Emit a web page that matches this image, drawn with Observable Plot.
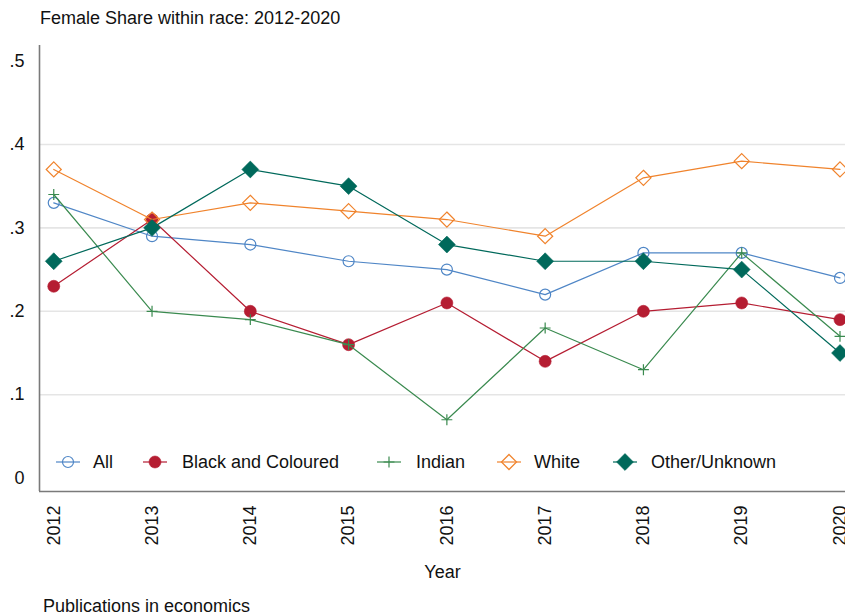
<!DOCTYPE html>
<html>
<head>
<meta charset="utf-8">
<script src="https://cdn.jsdelivr.net/npm/d3@7"></script>
<script src="https://cdn.jsdelivr.net/npm/@observablehq/plot@0.6"></script>
<style>
  body { margin: 0; background: #fff; font-family: "Liberation Sans", Arial, sans-serif; }
  #wrap { position: relative; width: 845px; height: 616px; overflow: hidden; background: #fff; }
  #wrap svg.plot { position: absolute; left: 0; top: 0; }
  .txt { position: absolute; font-size: 18px; color: #111; white-space: nowrap; line-height: 1; }
  .key { position: absolute; top: 452px; height: 20px; }
  .keylabel { position: absolute; top: 453px; font-size: 18px; color: #111; white-space: nowrap; line-height: 1; }
</style>
</head>
<body>
<div id="wrap">
  <div class="txt" id="title" style="left:40px; top:9px;">Female Share within race: 2012-2020</div>
  <div class="txt" id="caption" style="left:43px; top:597px;">Publications in economics</div>
</div>
<script>
// Publication years
const years = [2012, 2013, 2014, 2015, 2016, 2017, 2018, 2019, 2020];

// Female share of publications, by race group
const shareAll     = [0.33, 0.29, 0.28, 0.26, 0.25, 0.22, 0.27, 0.27, 0.24];
const shareBlack   = [0.23, 0.31, 0.20, 0.16, 0.21, 0.14, 0.20, 0.21, 0.19];
const shareIndian  = [0.34, 0.20, 0.19, 0.16, 0.07, 0.18, 0.13, 0.27, 0.17];
const shareWhite   = [0.37, 0.31, 0.33, 0.32, 0.31, 0.29, 0.36, 0.38, 0.37];
const shareOther   = [0.26, 0.30, 0.37, 0.35, 0.28, 0.26, 0.26, 0.25, 0.15];

const seriesNames  = ["All", "Black and Coloured", "Indian", "White", "Other/Unknown"];
const seriesValues = [shareAll, shareBlack, shareIndian, shareWhite, shareOther];
const yTicks = [0, 0.1, 0.2, 0.3, 0.4, 0.5];

// Marker style per series: colour, symbol, radius, hollow or filled
const styles = [
  {color: "#4f86c6", symbol: "circle",   r: 5.5, hollow: true},
  {color: "#b51d32", symbol: "circle",   r: 6,   hollow: false},
  {color: "#3a8a4f", symbol: "plus",     r: 3.6, hollow: true},
  {color: "#f0832c", symbol: "diamond2", r: 6.8, hollow: true},
  {color: "#00695b", symbol: "diamond2", r: 7.6, hollow: false}
];

const rows = seriesNames.flatMap((name, i) =>
  years.map((year, j) => ({series: name, year, share: seriesValues[i][j]}))
);

const xDomain = [2011.855, 2020.056];
const yDomain = [-0.016, 0.5186];
const axisColor = "#7a7a7a";

const seriesMarks = seriesNames.flatMap((name, i) => {
  const s = styles[i];
  const data = rows.filter(d => d.series === name);
  return [
    Plot.line(data, {x: "year", y: "share", stroke: s.color, strokeWidth: 1.2}),
    Plot.dot(data, {
      x: "year", y: "share", symbol: () => s.symbol, r: s.r,
      fill: s.hollow ? "none" : s.color,
      stroke: s.color, strokeWidth: s.hollow ? 1.2 : 0.6
    })
  ];
});

const yFmt = d => d === 0 ? "0" : d3.format(".1f")(d).replace(/^0/, "");

const chart = Plot.plot({
  width: 845,
  height: 616,
  marginLeft: 39,
  marginRight: 0,
  marginTop: 45,
  marginBottom: 125,
  style: {fontFamily: "'Liberation Sans', Arial, sans-serif", fontSize: "18px", color: "#111", background: "transparent"},
  x: {domain: xDomain},
  y: {domain: yDomain},
  symbol: {type: "identity"},
  marks: [
    Plot.gridY(yTicks.filter(t => t > 0 && t < 0.5), {stroke: "#e5e5e5", strokeOpacity: 1, strokeWidth: 1.6}),
    Plot.axisY(yTicks, {tickSize: 0, tickPadding: 15, tickFormat: yFmt, label: null, fill: "#111"}),
    Plot.axisX(years, {
      tickSize: 0, tickPadding: 14, tickRotate: -90, tickFormat: d => String(d),
      label: "Year", labelAnchor: "center", labelArrow: "none", labelOffset: 86, fill: "#111"
    }),
    ...seriesMarks,
    Plot.ruleX([xDomain[0]], {stroke: axisColor, strokeWidth: 1.6}),
    Plot.ruleY([yDomain[0]], {stroke: axisColor, strokeWidth: 1.6})
  ]
});
chart.classList.add("plot");
const wrap = document.getElementById("wrap");
wrap.insertBefore(chart, wrap.firstChild);

// Legend keys: a short line segment with the series marker, then its name
const keyCenters = [68, 155, 389, 509, 625];
const labelLefts = [93, 182, 416, 534, 651];
seriesNames.forEach((name, i) => {
  const s = styles[i];
  const key = d3.create("svg").attr("class", "key")
    .attr("width", 30).attr("height", 20)
    .style("left", (keyCenters[i] - 15) + "px");
  key.append("line").attr("x1", 3).attr("x2", 27).attr("y1", 10).attr("y2", 10)
    .attr("stroke", s.color).attr("stroke-width", 1.2);
  const symType = s.symbol === "circle" ? d3.symbolCircle : s.symbol === "plus" ? d3.symbolPlus : d3.symbolDiamond2;
  key.append("path")
    .attr("transform", "translate(15,10)")
    .attr("d", d3.symbol(symType, Math.PI * s.r * s.r)())
    .attr("fill", s.hollow ? "none" : s.color)
    .attr("stroke", s.color)
    .attr("stroke-width", s.hollow ? 1.2 : 0.6);
  wrap.appendChild(key.node());
  const lab = document.createElement("div");
  lab.className = "keylabel";
  lab.style.left = labelLefts[i] + "px";
  lab.textContent = name;
  wrap.appendChild(lab);
});
</script>
</body>
</html>
